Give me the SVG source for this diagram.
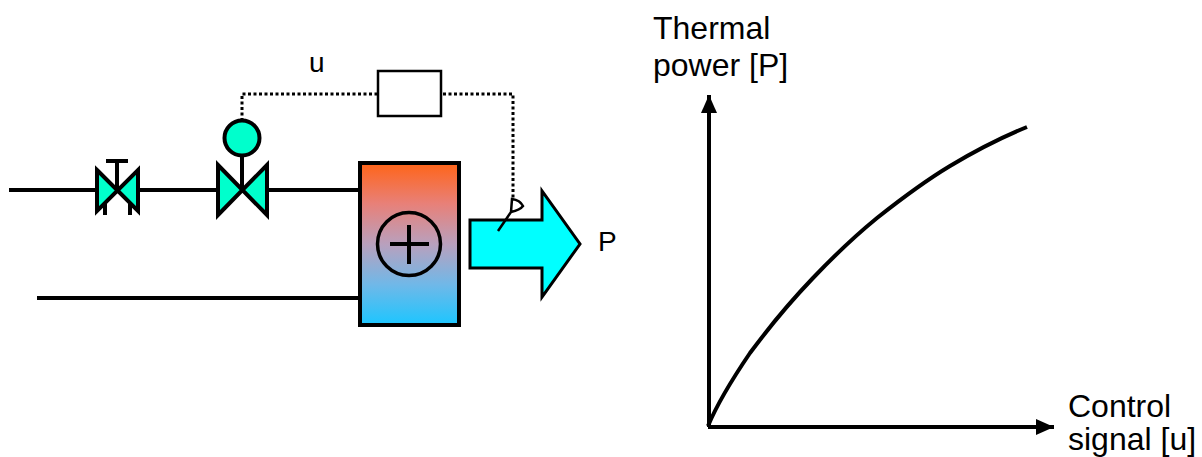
<svg xmlns="http://www.w3.org/2000/svg" width="1202" height="457" viewBox="0 0 1202 457">
<style>
text{font-family:"Liberation Sans",Arial,sans-serif;fill:#000}
.big{font-size:32px}
.mid{font-size:28px}
.ln{fill:none;stroke:#000;stroke-width:4}
.dot{fill:none;stroke:#000;stroke-width:3;stroke-dasharray:3 2.5}
.v{fill:#00ffcc;stroke:#000;stroke-width:4;stroke-miterlimit:10}
</style>
<defs>
<linearGradient id="g" x1="0" y1="0" x2="0" y2="1"><stop offset="0" stop-color="#ff6418"/><stop offset=".25" stop-color="#e88078"/><stop offset=".5" stop-color="#b9a0bd"/><stop offset=".75" stop-color="#70b8e8"/><stop offset="1" stop-color="#1cc6ff"/></linearGradient>
<marker id="a" markerUnits="userSpaceOnUse" markerWidth="18" markerHeight="16" refX="18" refY="8" orient="auto"><path d="M0 0L18 8L0 16Z" fill="#000"/></marker>
</defs>
<g id="connectors">
<path class="ln" d="M9 190H97M138 190H218M268 190H360M37 298H360"/>
<path class="dot" d="M242 121V94H378M443 94H513V198"/>
<path class="ln" d="M709 427V95" marker-end="url(#a)"/>
<path class="ln" d="M708 427H1054" marker-end="url(#a)"/>
</g>
<g id="manual-valve">
<path class="v" d="M97 170L138 211V170L97 211Z"/>
<path class="ln" d="M117 190V161M106 161H128M105 204V215M130 204V215"/>
</g>
<g id="control-valve">
<path class="v" d="M218 165L267 215V165L218 215Z"/>
<path class="ln" d="M242 155V190"/>
<circle class="v" cx="242" cy="138" r="17.500"/>
</g>
<g id="heater">
<rect x="360" y="163" width="99" height="162" fill="url(#g)" stroke="#000" stroke-width="4"/>
<circle cx="409" cy="244" r="31.500" fill="none" stroke="#000" stroke-width="3.500"/>
<path class="ln" d="M390 244H429M409 225V264"/>
</g>
<g id="power-arrow">
<path d="M470 220H542V191L580 244L542 297V268H470Z" fill="#00ffff" stroke="#000" stroke-width="3"/>
<path d="M498 231L511 212L512 199Q520 200 523 206Q520 210 511 212" fill="none" stroke="#000" stroke-width="2.500"/>
<text class="mid" x="598" y="251">P</text>
</g>
<g id="controller">
<rect x="378" y="71" width="63" height="45" fill="#fff" stroke="#000" stroke-width="2.500"/>
<text class="mid" x="309" y="72">u</text>
</g>
<g id="chart">
<path d="M708 426C718 402 733 378 750 353C770 326 790 302 813 278C833 257 855 236 877 218C901 199 925 181 950 166C975 151 1000 138 1027 127" fill="none" stroke="#000" stroke-width="4"/>
<text class="big" x="653" y="39">Thermal</text>
<text class="big" x="653" y="76">power [P]</text>
<text class="big" x="1068" y="417">Control</text>
<text class="big" x="1068" y="450">signal [u]</text>
</g>
</svg>
